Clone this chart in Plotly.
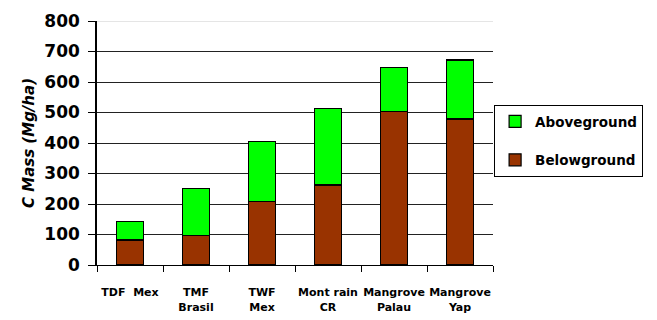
import plotly.graph_objects as go

categories = ["TDF  Mex", "TMF<br>Brasil", "TWF<br>Mex", "Mont rain<br>CR", "Mangrove<br>Palau", "Mangrove<br>Yap"]
belowground = [82, 98, 207, 262, 504, 479]
total = [143, 252, 405, 514, 648, 672]
aboveground = [t - b for t, b in zip(total, belowground)]

FONT = "Comic Sans MS, DejaVu Sans, sans-serif"

fig = go.Figure()
fig.add_trace(go.Bar(x=categories, y=belowground, name="Belowground", legendgroup="b",
                     legendrank=2,
                     marker=dict(color="#993300", line=dict(color="black", width=1.2)),
                     width=0.42))
fig.add_trace(go.Bar(x=categories, y=aboveground, name="Aboveground", legendgroup="a",
                     legendrank=1,
                     marker=dict(color="#00FF00", line=dict(color="black", width=1.2)),
                     width=0.42))

fig.add_shape(type="line", xref="paper", yref="y", x0=0, x1=1, y0=800, y1=800,
              line=dict(color="#cccccc", width=1))

fig.update_layout(
    barmode="stack",
    width=649, height=312,
    margin=dict(l=89, r=164, t=13, b=55),
    paper_bgcolor="white", plot_bgcolor="white",
    font=dict(family=FONT, color="black"),
    showlegend=True,
    legend=dict(xref="container", yref="container", x=0.749, y=0.689,
                xanchor="left", yanchor="top",
                traceorder="grouped", tracegroupgap=18, itemwidth=30,
                bordercolor="black", borderwidth=1,
                bgcolor="white", font=dict(size=13.5, family=FONT, weight="bold")),
    xaxis=dict(tickson="boundaries", ticks="outside", ticklen=6, tickcolor="black",
               showline=True, linecolor="black", linewidth=1, showgrid=False,
               tickangle=0, automargin=False,
               tickfont=dict(size=11, family=FONT, weight="bold"),
               ticklabelstandoff=17),
    yaxis=dict(range=[0, 800], dtick=100, ticks="outside", ticklen=7, tickcolor="black",
               showline=True, linecolor="black", linewidth=1.5, automargin=False,
               gridcolor="#222222", gridwidth=1, ticklabelstandoff=5,
               tickfont=dict(size=17, family=FONT, weight="bold"),
               title=dict(text="<i>C Mass (Mg/ha)</i>", standoff=6,
                          font=dict(size=15, family=FONT, weight="bold"))),
)

fig.write_html("out.html")
